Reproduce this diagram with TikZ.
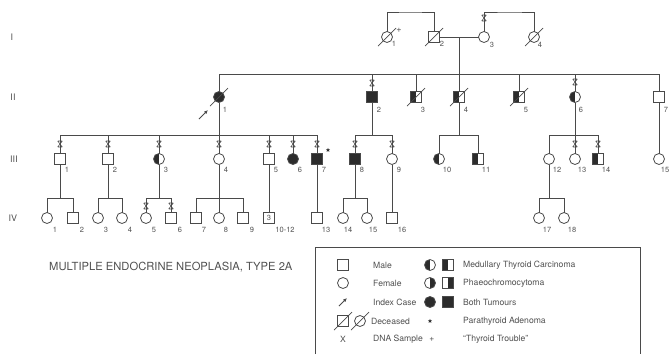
\documentclass[tikz,border=0pt]{standalone}
\usepackage{fontspec}
\setmainfont{TeX Gyre Heros}
\usetikzlibrary{arrows.meta,shapes.geometric}
\definecolor{ln}{HTML}{4a4a4a}
\definecolor{dk}{HTML}{2c2c2c}
\definecolor{tx}{HTML}{505050}
\begin{document}
\begin{tikzpicture}[x=1pt,y=-1pt,
  ln/.style={draw=ln, line width=0.75pt},
  sym/.style={draw=ln, line width=0.8pt, fill=white, inner sep=0pt, outer sep=0pt},
  male/.style={sym, rectangle, minimum size=10.5pt},
  fem/.style={sym, circle, minimum size=11pt},
  both/.style={fill=dk},
  mtc/.style={path picture={\fill[dk] (path picture bounding box.south west) rectangle (path picture bounding box.north);}},
  phaeo/.style={path picture={\fill[dk] (path picture bounding box.south) rectangle (path picture bounding box.north east);}},
  num/.style={font=\fontsize{7.5}{8}\selectfont, text=tx, inner sep=0pt},
  gen/.style={font=\fontsize{9}{10}\selectfont, text=tx, inner sep=0pt},
  lt/.style={font=\fontsize{8.6}{10}\selectfont, text=tx, inner sep=0pt, anchor=west},
  pt/.style={star, star points=5, star point ratio=2.4, fill=dk, inner sep=0pt, minimum size=4.5pt},
  slash/.pic={\draw[draw=ln, line width=0.7pt] (-9,9) -- (9,-9);},
  dna/.pic={\draw[draw=ln, line width=0.55pt] (-2.3,-3) -- (2.3,3) (-2.3,3) -- (2.3,-3) (-2,-3) -- (2,-3) (-2,3) -- (2,3);}
]
\useasboundingbox (0,0) rectangle (670,354);

% generation labels
\node[gen] (gI) at (12,37) {I};
\node[gen] (gII) at (13,97) {II};
\node[gen] (gIII) at (14,159) {III};
\node[gen] (gIV) at (13,218) {IV};

% Generation I
\node[fem] (I1) at (387,37) {};
\node[male] (I2) at (434,37) {};
\node[fem] (I3) at (484,37) {};
\node[fem] (I4) at (534,37) {};

% Generation II
\node[fem,both] (II1) at (219,97) {};
\node[male,both] (II2) at (372,97) {};
\node[male,mtc] (II3) at (416,97) {};
\node[male,mtc] (II4) at (459,97) {};
\node[male,mtc] (II5) at (519,97) {};
\node[fem,mtc] (II6) at (575,97) {};
\node[male] (II7) at (659,97) {};

% Generation III
\node[male] (III1) at (60,159) {};
\node[male] (III2) at (108,159) {};
\node[fem,mtc] (III3) at (159,159) {};
\node[fem] (III4) at (219,159) {};
\node[male] (III5) at (269,159) {};
\node[fem,both] (III6) at (293,159) {};
\node[male,both] (III7) at (317,159) {};
\node[male,both] (III8) at (355,159) {};
\node[fem] (III9) at (392,159) {};
\node[fem,mtc] (III10) at (439,159) {};
\node[male,mtc] (III11) at (478,159) {};
\node[fem] (III12) at (549,159) {};
\node[fem] (III13) at (575,159) {};
\node[male,mtc] (III14) at (598,159) {};
\node[fem] (III15) at (659,159) {};

% Generation IV
\node[fem] (IV1) at (47,218) {};
\node[male] (IV2) at (73,218) {};
\node[fem] (IV3) at (98,218) {};
\node[fem] (IV4) at (122,218) {};
\node[fem] (IV5) at (146,218) {};
\node[male] (IV6) at (171,218) {};
\node[male] (IV7) at (196,218) {};
\node[fem] (IV8) at (219,218) {};
\node[male] (IV9) at (243,218) {};
\node[male,font=\fontsize{7.5}{8}\selectfont,text=tx] (IV10) at (269,218) {3};
\node[male] (IV13) at (317,218) {};
\node[fem] (IV14) at (343,218) {};
\node[fem] (IV15) at (367,218) {};
\node[male] (IV16) at (392,218) {};
\node[fem] (IV17) at (539,218) {};
\node[fem] (IV18) at (564,218) {};

% ---- connectors ----
\coordinate (tA) at (410,12);
\coordinate (tB) at (510,12);
\draw[ln] (I1.north) |- (tA) -| (I2.north);
\draw[ln] (I3.north) |- (tB) -| (I4.north);
\draw[ln] (I2.east) -- (I3.west);
\coordinate (mI) at (459,37);
\coordinate (sII) at (219,74);
\draw[ln] (mI) -- (mI |- sII);
\draw[ln] (II1.north |- sII) -- (II7.north |- sII);
\foreach \n in {II1,II2,II3,II4,II5,II6,II7}
  \draw[ln] (\n.north |- sII) -- (\n.north);

\coordinate (sIII) at (0,135);
% II-1 family
\draw[ln] (II1.south) -- (II1.south |- sIII);
\draw[ln] (III1.north |- sIII) -- (III7.north |- sIII);
\foreach \n in {III1,III2,III3,III4,III5,III6,III7}
  \draw[ln] (\n.north |- sIII) -- (\n.north);
% II-2 family
\draw[ln] (II2.south) -- (II2.south |- sIII);
\draw[ln] (III8.north |- sIII) -- (III9.north |- sIII);
\foreach \n in {III8,III9}
  \draw[ln] (\n.north |- sIII) -- (\n.north);
% II-4 family
\draw[ln] (II4.south) -- (II4.south |- sIII);
\draw[ln] (III10.north |- sIII) -- (III11.north |- sIII);
\foreach \n in {III10,III11}
  \draw[ln] (\n.north |- sIII) -- (\n.north);
% II-6 family
\draw[ln] (II6.south) -- (II6.south |- sIII);
\draw[ln] (III12.north |- sIII) -- (III14.north |- sIII);
\foreach \n in {III12,III13,III14}
  \draw[ln] (\n.north |- sIII) -- (\n.north);
% II-7
\draw[ln] (II7.south) -- (III15.north);

\coordinate (sIV) at (0,198);
\draw[ln] (III1.south) -- (III1.south |- sIV);
\draw[ln] (IV1.north |- sIV) -- (IV2.north |- sIV);
\draw[ln] (III2.south) -- (III2.south |- sIV);
\draw[ln] (IV3.north |- sIV) -- (IV4.north |- sIV);
\draw[ln] (III3.south) -- (III3.south |- sIV);
\draw[ln] (IV5.north |- sIV) -- (IV6.north |- sIV);
\draw[ln] (III4.south) -- (III4.south |- sIV);
\draw[ln] (IV7.north |- sIV) -- (IV9.north |- sIV);
\draw[ln] (III8.south) -- (III8.south |- sIV);
\draw[ln] (IV14.north |- sIV) -- (IV15.north |- sIV);
\draw[ln] (III12.south) -- (III12.south |- sIV);
\draw[ln] (IV17.north |- sIV) -- (IV18.north |- sIV);
\foreach \n in {IV1,IV2,IV3,IV4,IV5,IV6,IV7,IV8,IV9,IV14,IV15,IV17,IV18}
  \draw[ln] (\n.north |- sIV) -- (\n.north);
\draw[ln] (III5.south) -- (IV10.north);
\draw[ln] (III7.south) -- (IV13.north);
\draw[ln] (III9.south) -- (IV16.north);

% deceased slashes
\foreach \n in {I1,I2,I4,II1,II3,II4,II5}
  \pic at (\n.center) {slash};

% DNA samples
\pic at (484,18) {dna};
\pic at (372,83) {dna};
\pic at (575,82) {dna};
\foreach \xx in {60,108,159,219,269,293,317,355,392,575,598}
  \pic at (\xx,144) {dna};
\pic at (146,206) {dna};
\pic at (171,206) {dna};

% index case arrow, thyroid trouble, parathyroid
\coordinate (ia) at (199,119);
\draw[ln, -{Latex[length=4pt,width=3.5pt]}] (ia) -- (208,110);
\node[num, font=\fontsize{9}{10}\selectfont] (tt1) at (399,30) {+};
\node[pt] (pa7) at (328,150) {};

% numbers
\foreach \n/\t/\dx/\dy in {I1/1/7/7, I2/2/8/7, I3/3/8/8, I4/4/6/8,
  II1/1/6/13, II2/2/7/13, II3/3/7/13, II4/4/7/13, II5/5/7/13, II6/6/6/13, II7/7/7/13,
  III1/1/7/11, III2/2/7/11, III3/3/7/11, III4/4/7/11, III5/5/7/11, III6/6/7/11, III7/7/7/11,
  III8/8/7/11, III9/9/7/11, III10/10/8/11, III11/11/8/11, III12/12/8/11, III13/13/7/11,
  III14/14/8/11, III15/15/6/11,
  IV1/1/8/12, IV2/2/9/12, IV3/3/8/12, IV4/4/8/12, IV5/5/8/12, IV6/6/9/12, IV7/7/8/12,
  IV8/8/7/12, IV9/9/9/12, IV10/10-12/16/12, IV13/13/9/12, IV14/14/5/12, IV15/15/6/12,
  IV16/16/10/12, IV17/17/8/12, IV18/18/8/12}
  \node[num] (l\n) at ([shift={(\dx,\dy)}]\n.center) {\t};

% title
\node[anchor=west, font=\fontsize{11.2}{13}\selectfont, text=tx, inner sep=0pt] (title) at (49,267) {MULTIPLE ENDOCRINE NEOPLASIA, TYPE 2A};

% legend
\draw[ln] (315,354) -- (315,247) -- (640,247) -- (640,354);
\node[male] (Lmale) at (343,265) {};
\node[lt] (tmale) at (373,265) {Male};
\node[fem,mtc] (Lmc) at (430,265) {};
\node[male,mtc] (Lmm) at (448,265) {};
\node[lt] (tmtc) at (463,265) {Medullary Thyroid Carcinoma};
\node[fem] (Lfem) at (343,283) {};
\node[lt] (tfem) at (373,283) {Female};
\node[fem,phaeo] (Lpc) at (430,283) {};
\node[male,phaeo] (Lpm) at (448,283) {};
\node[lt] (tph) at (463,283) {Phaeochromocytoma};
\coordinate (La) at (339,306);
\draw[ln, -{Latex[length=4pt,width=3.5pt]}] (La) -- (347,298);
\node[lt] (tidx) at (373,302) {Index Case};
\node[fem,both] (Lbc) at (430,302) {};
\node[male,both] (Lbm) at (448,302) {};
\node[lt] (tboth) at (463,302) {Both Tumours};
\node[male] (Ldm) at (343,321) {};
\node[fem] (Ldf) at (360,321) {};
\pic at (Ldm.center) {slash};
\pic at (Ldf.center) {slash};
\node[lt] (tdec) at (371,321) {Deceased};
\node[pt] (Lpa) at (430,321) {};
\node[lt] (tpa) at (463,321) {Parathyroid Adenoma};
\node[lt, anchor=center] (Lx) at (343,339) {X};
\node[lt] (tdna) at (373,339) {DNA Sample};
\node[lt, anchor=center] (Lplus) at (432,339) {+};
\node[lt] (ttt) at (463,339) {“Thyroid Trouble”};
\end{tikzpicture}
\end{document}
